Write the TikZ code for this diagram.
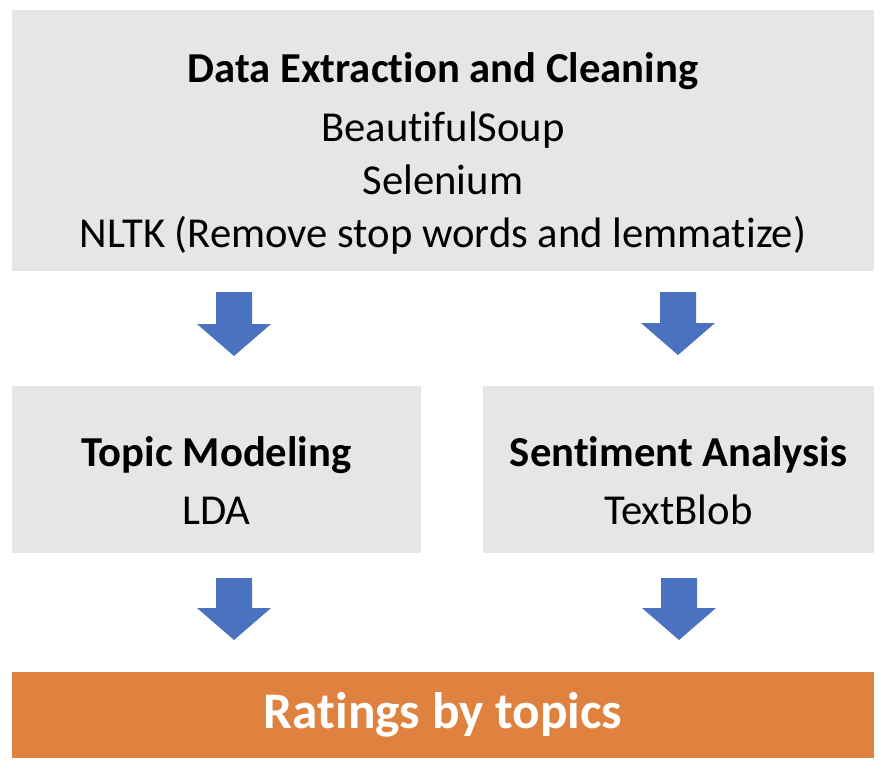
\documentclass[tikz,border=0pt]{standalone}
\usepackage{fontspec}
\setmainfont{Carlito}[Ligatures=NoCommon]
\definecolor{boxgray}{HTML}{E7E6E6}
\definecolor{arrowblue}{HTML}{4A72BE}
\definecolor{rateorange}{HTML}{E0823F}

\begin{document}
\begin{tikzpicture}[x=0.75pt,y=-0.75pt,
block/.style={fill=boxgray,align=center,inner sep=0pt,text depth=0pt,font=\fontsize{32}{40}\selectfont},
result/.style={block,fill=rateorange,text=white,font=\fontsize{38.5}{46}\selectfont\bfseries},
pics/bigarrow/.style={code={\fill[arrowblue] (-18,0) -- (18,0) -- (18,{#1-32}) -- (37,{#1-32})
  -- (0,#1) -- (-37,{#1-32}) -- (-18,{#1-32}) -- cycle;}}]
\useasboundingbox (0,0) rectangle (884,770);
\node[block,minimum width=646.5pt,minimum height=195.75pt,text height=161pt] (extract) at (443,140.5)
{{\bfseries Data Extraction and Cleaning}\\[4pt]BeautifulSoup\\Selenium\\NLTK (Remove stop words and lemmatize)};
\node[block,minimum width=306.75pt,minimum height=125.25pt,text height=83pt] (topic) at (216.5,469.5)
{{\bfseries Topic Modeling}\\[4pt]LDA};
\node[block,minimum width=293.25pt,minimum height=125.25pt,text height=83pt] (sentiment) at (678.5,469.5)
{{\bfseries Sentiment Analysis}\\[4pt]TextBlob};
\node[result,minimum width=646.5pt,minimum height=64.5pt,text depth=] (rating) at (443,715) {Ratings by topics};
\pic (extopic) at (234,292) {bigarrow=64};
\pic (exsent) at (678,292) {bigarrow=63};
\pic (toprate) at (234,578) {bigarrow=62};
\pic (sentrate) at (679,578) {bigarrow=62};
\end{tikzpicture}
\end{document}
